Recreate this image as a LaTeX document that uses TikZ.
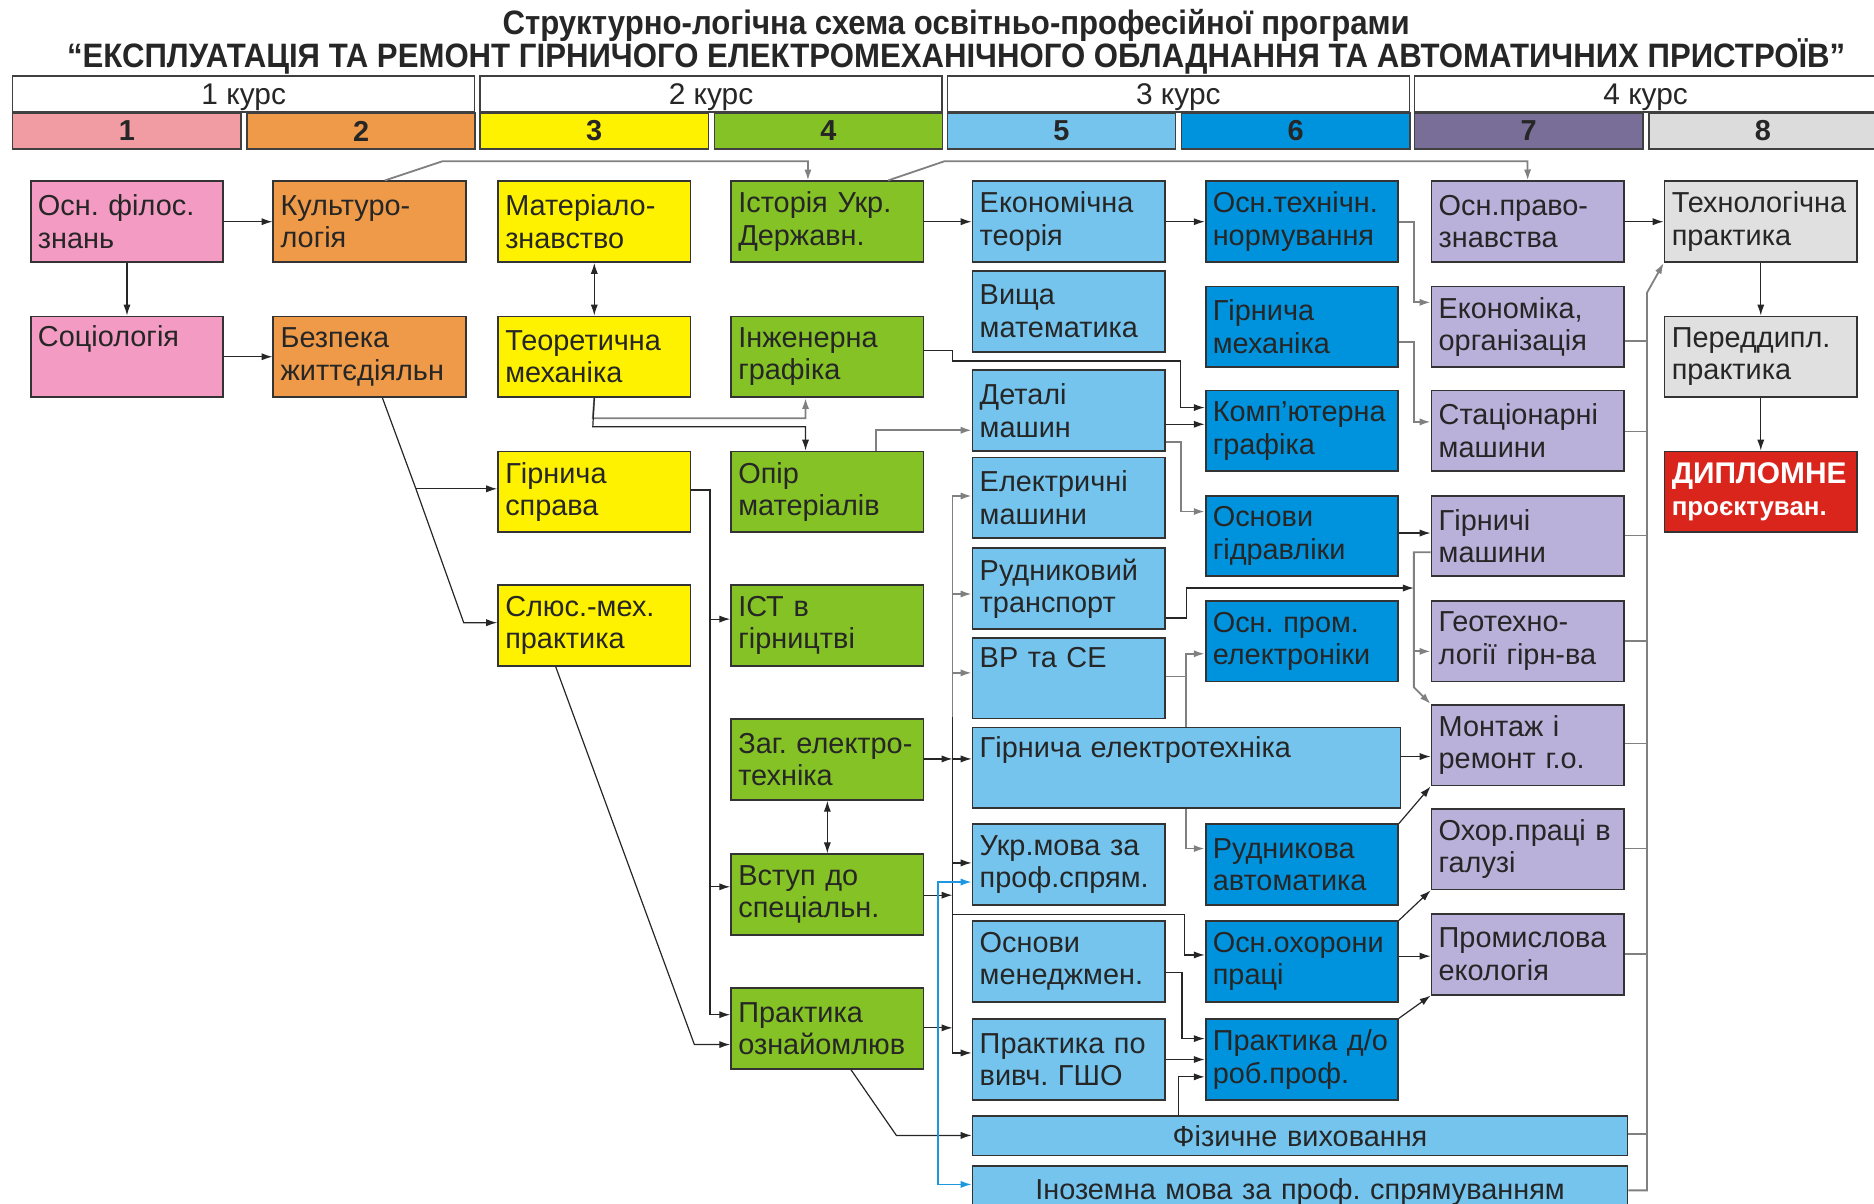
\documentclass[tikz,border=0pt]{standalone}
\usepackage{fontspec}
\setmainfont{Liberation Sans}
\newfontfamily\titlefont[FakeStretch=0.92]{Liberation Sans}
\usetikzlibrary{arrows.meta}
\frenchspacing

\definecolor{pinkH}{HTML}{F19CA2}
\definecolor{orangeH}{HTML}{EF9A48}
\definecolor{yellowH}{HTML}{FFF200}
\definecolor{greenH}{HTML}{84C225}
\definecolor{lblueH}{HTML}{74C4EE}
\definecolor{blueH}{HTML}{0093DD}
\definecolor{purpleH}{HTML}{786E98}
\definecolor{greyH}{HTML}{DCDCDC}
\definecolor{pinkB}{HTML}{F39BC2}
\definecolor{lavB}{HTML}{B9B1D9}
\definecolor{greyB}{HTML}{E0E0E0}
\definecolor{redB}{HTML}{DA251D}
\definecolor{lineB}{HTML}{1E96E0}

\begin{document}
\begin{tikzpicture}[x=0.6pt, y=-0.6pt, >={Latex[length=5.5pt,width=3.6pt]}]
  \tikzstyle{box}=[draw=black!80, line width=0.9pt, anchor=north west, minimum height=40.5pt,
                   text width=89.4pt, inner xsep=3.6pt, inner ysep=2pt, align=left,
                   text=black!85, font=\fontsize{14.5}{16.3}\selectfont]
  \tikzstyle{c1}=[box, fill=pinkB]
  \tikzstyle{c2}=[box, fill=orangeH]
  \tikzstyle{c3}=[box, fill=yellowH]
  \tikzstyle{c4}=[box, fill=greenH]
  \tikzstyle{c5}=[box, fill=lblueH]
  \tikzstyle{c6}=[box, fill=blueH]
  \tikzstyle{c7}=[box, fill=lavB]
  \tikzstyle{c8}=[box, fill=greyB]
  \tikzstyle{kurs}=[draw=black!75, line width=0.7pt, anchor=north west, minimum width=232pt,
                    minimum height=18pt, inner sep=0pt, text depth=0pt, text=black!85,
                    font=\fontsize{15}{16}\selectfont]
  \tikzstyle{sem}=[draw=black!75, line width=0.7pt, anchor=north west, minimum width=114.6pt,
                   minimum height=18pt, inner sep=0pt, text=black!85, font=\bfseries\fontsize{14.5}{16}\selectfont]
  \tikzstyle{ln}=[draw=black!85, line width=0.6pt]
  \tikzstyle{gln}=[draw=black!50, line width=0.9pt]
  \tikzstyle{bln}=[draw=lineB, line width=0.8pt, >={Latex[length=5.5pt,width=3.6pt]}]

  \useasboundingbox (0,0) rectangle (1568,1007);

  % title
  \node[font=\titlefont\bfseries\fontsize{17}{19}\selectfont, text=black!85] (title1) at (800,21)
    {Структурно-логічна схема освітньо-професійної програми};
  \node[font=\titlefont\bfseries\fontsize{17}{19}\selectfont, text=black!85] (title2) at (800,47)
    {“ЕКСПЛУАТАЦІЯ ТА РЕМОНТ ГІРНИЧОГО ЕЛЕКТРОМЕХАНІЧНОГО ОБЛАДНАННЯ ТА АВТОМАТИЧНИХ ПРИСТРОЇВ”};

  % courses and semesters
  \node[kurs] (k1) at (10,63) {1 курс};
  \node[kurs] (k2) at (401,63) {2 курс};
  \node[kurs] (k3) at (792,63) {3 курс};
  \node[kurs] (k4) at (1183,63) {4 курс};
  \node[sem, fill=pinkH] (s1) at (10,94) {1};
  \node[sem, fill=orangeH] (s2) at (206,94) {2};
  \node[sem, fill=yellowH] (s3) at (401,94) {3};
  \node[sem, fill=greenH] (s4) at (597,94) {4};
  \node[sem, fill=lblueH] (s5) at (792,94) {5};
  \node[sem, fill=blueH] (s6) at (988,94) {6};
  \node[sem, fill=purpleH] (s7) at (1183,94) {7};
  \node[sem, fill=greyH] (s8) at (1379,94) {8};

  % 1 semester
  \node[c1] (fil) at (25,151) {Осн. філос.\\знань};
  \node[c1] (soc) at (25,264) {Соціологія\\\strut};
  % 2 semester
  \node[c2] (kult) at (228,151) {Культуро-\\логія};
  \node[c2] (bzh) at (228,264) {Безпека\\життєдіяльн};
  % 3 semester
  \node[c3] (mat) at (416,151) {Матеріало-\\знавство};
  \node[c3] (teor) at (416,264) {Теоретична\\механіка};
  \node[c3] (girsp) at (416,377) {Гірнича\\справа};
  \node[c3] (slus) at (416,489) {Слюс.-мех.\\практика};
  % 4 semester
  \node[c4] (ist) at (611,151) {Історія Укр.\\Державн.};
  \node[c4] (ing) at (611,264) {Інженерна\\графіка};
  \node[c4] (opir) at (611,377) {Опір\\матеріалів};
  \node[c4] (ikt) at (611,489) {ІСТ в\\гірництві};
  \node[c4] (zagel) at (611,601) {\mbox{Заг. електро-}\\техніка};
  \node[c4] (vstup) at (611,714) {Вступ до\\спеціальн.};
  \node[c4] (praoz) at (611,826) {Практика\\ознайомлюв};
  % 5 semester
  \node[c5] (ekon) at (813,151) {Економічна\\теорія};
  \node[c5] (vyshm) at (813,226) {Вища\\математика};
  \node[c5] (detm) at (813,309) {Деталі\\машин};
  \node[c5] (elm) at (813,382) {Електричні\\машини};
  \node[c5] (rudtr) at (813,458) {Рудниковий\\транспорт};
  \node[c5] (vrse) at (813,533) {ВР та СЕ\\\strut};
  \node[c5, text width=207.6pt] (girel) at (813,608) {Гірнича електротехніка\\\strut};
  \node[c5] (ukrm) at (813,689) {Укр.мова за\\проф.спрям.};
  \node[c5] (menej) at (813,770) {Основи\\менеджмен.};
  \node[c5] (prgsho) at (813,852) {Практика по\\вивч. ГШО};
  \node[c5, text width=321.6pt, minimum height=19.8pt, align=center] (fiz) at (813,933) {Фізичне виховання};
  \node[c5, text width=321.6pt, minimum height=26.4pt, align=center] (inoz) at (813,975) {Іноземна мова за проф. спрямуванням};
  % 6 semester
  \node[c6] (tnorm) at (1008,151) {Осн.технічн.\\нормування};
  \node[c6] (girmeh) at (1008,239) {Гірнича\\механіка};
  \node[c6] (kompg) at (1008,326) {Комп’ютерна\\графіка};
  \node[c6] (gidr) at (1008,414) {Основи\\гідравліки};
  \node[c6] (prome) at (1008,502) {Осн. пром.\\електроніки};
  \node[c6] (rudavt) at (1008,689) {Рудникова\\автоматика};
  \node[c6] (ohpr) at (1008,770) {Осн.охорони\\праці};
  \node[c6] (prdo) at (1008,852) {Практика д/о\\роб.проф.};
  % 7 semester
  \node[c7] (pravo) at (1197,151) {Осн.право-\\знавства};
  \node[c7] (ekorg) at (1197,239) {Економіка,\\організація};
  \node[c7] (stac) at (1197,326) {Стаціонарні\\машини};
  \node[c7] (girmash) at (1197,414) {Гірничі\\машини};
  \node[c7] (geot) at (1197,502) {Геотехно-\\логії гірн-ва};
  \node[c7] (mont) at (1197,589) {Монтаж і\\ремонт г.о.};
  \node[c7] (ohgal) at (1197,676) {Охор.праці в\\галузі};
  \node[c7] (ekol) at (1197,764) {Промислова\\екологія};
  % 8 semester
  \node[c8] (tehpr) at (1392,151) {Технологічна\\практика};
  \node[c8] (pdpr) at (1392,264) {Переддипл.\\практика};
  \node[box, fill=redB, text=white, font=\bfseries\fontsize{15}{16.3}\selectfont] (dypl) at (1392,377)
    {ДИПЛОМНЕ\\{\fontsize{13}{15}\selectfont проєктуван.}};

  % joints
  \coordinate (bzb) at (348,409);
  \coordinate (gs1) at (594,518);
  \coordinate (gs2) at (594,742);
  \coordinate (zb) at (797,635);
  \coordinate (vb) at (797,749);
  \coordinate (pb) at (797,860);
  \coordinate (bt) at (797,415);
  \coordinate (bm) at (797,600);
  \coordinate (bb) at (797,881);
  \coordinate (gb) at (1183,545);
  \coordinate (rt) at (1183,492);

  % connectors
  \draw[ln,->] (fil) -- (kult);
  \draw[ln,->] (fil) -- (soc);
  \draw[ln,->] (soc) -- (bzh);
  \draw[gln,->] (kult.north -| 322,0) -- (370,135) -- (676,135) -- (ist.north -| 676,0);
  \draw[gln,->] (ist.north -| 743,0) -- (790,135) -- (1278,135) -- (pravo.north);
  \draw[ln,->] (ist) -- (ekon);
  \draw[ln,->] (ekon) -- (tnorm);
  \draw[ln,->] (pravo) -- (tehpr);
  \draw[ln,->] (tehpr) -- (pdpr);
  \draw[ln,->] (pdpr) -- (dypl);
  \draw[ln,<->] (mat) -- (teor);
  \draw[gln,->] (teor.south) -- (496,350) -- (674,350) -- (ing.south -| 674,0);
  \draw[ln,->] (teor.south) -- (496,357) -- (674,357) -- (opir.north -| 674,0);
  \draw[ln,->] (ing.east |- 0,293) -- (797,293) -- (797,302) -- (988,302) -- (988,341) -- (kompg.west |- 0,341);
  \draw[gln,->] (opir.north -| 733,0) -- (733,360) -- (detm.west |- 0,360);
  \draw[ln,->] (detm.east |- 0,355) -- (kompg.west |- 0,355);
  \draw[gln,->] (detm.east |- 0,370) -- (988,370) -- (988,428) -- (gidr.west |- 0,428);
  \draw[gln,->] (tnorm.east |- 0,186) -- (1183,186) -- (1183,253) -- (ekorg.west |- 0,253);
  \draw[gln,->] (girmeh.east |- 0,286) -- (1183,286) -- (1183,353) -- (stac.west |- 0,353);
  \draw[ln,->] (gidr.east |- 0,446) -- (girmash.west |- 0,446);
  \draw[gln,->] (girmash.west |- 0,462) -- (1183,462) -- (1183,575) -- (mont.north west);
  \draw[gln,->] (gb) -- (geot.west |- gb);
  \draw[ln,->] (rudtr.east |- 0,517) -- (993,517) -- (993,492) -- (rt);

  \draw[ln,->] (bzh.south -| 320,0) -- (bzb) -- (388,521) -- (slus.west |- 0,521);
  \draw[ln,->] (bzb) -- (girsp.west |- bzb);
  \draw[ln,->] (slus.south -| 465,0) -- (581,874) -- (praoz.west |- 0,874);
  \draw[ln,->] (girsp.east |- 0,410) -- (594,410) -- (594,849) -- (praoz.west |- 0,849);
  \draw[ln,->] (gs1) -- (ikt.west |- gs1);
  \draw[ln,->] (gs2) -- (vstup.west |- gs2);
  \draw[ln,<->] (zagel) -- (vstup);
  \draw[ln,->] (zagel.east |- zb) -- (zb);
  \draw[ln,->] (zb) -- (girel.west |- zb);
  \draw[ln,->] (vstup.east |- vb) -- (vb);
  \draw[ln,->] (praoz.east |- pb) -- (pb);
  \draw[ln,->] (praoz.south -| 712,0) -- (750,950) -- (fiz.west |- 0,950);

  % bus between 4 and 5
  \draw[gln,->] (bm) -- (bt) -- (elm.west |- bt);
  \draw[gln,->] (797,497) -- (rudtr.west |- 0,497);
  \draw[gln,->] (797,563) -- (vrse.west |- 0,563);
  \draw[ln,->] (bm) -- (bb) -- (prgsho.west |- bb);
  \draw[ln,->] (797,722) -- (ukrm.west |- 0,722);
  \draw[ln,->] (797,765) -- (991,765) -- (991,799) -- (ohpr.west |- 0,799);
  \draw[bln,<->] (ukrm.west |- 0,738) -- (785,738) -- (785,991) -- (inoz.west |- 0,991);

  \draw[ln,->] (menej.east |- 0,814) -- (989,814) -- (989,869) -- (prdo.west |- 0,869);
  \draw[ln,->] (prgsho) -- (prdo);
  \draw[ln,->] (fiz.north -| 986,0) -- (986,901) -- (prdo.west |- 0,901);
  \draw[ln,->] (prdo.north east) -- (ekol.south west);
  \draw[ln,->] (ohpr.east |- 0,800) -- (ekol.west |- 0,800);
  \draw[ln,->] (ohpr.north east) -- (ohgal.south west);
  \draw[ln,->] (rudavt.north east) -- (mont.south west);
  \draw[ln,->] (girel.east |- 0,633) -- (mont.west |- 0,633);
  \draw[gln,->] (girel.south -| 992,0) -- (992,710) -- (rudavt.west |- 0,710);
  \draw[gln] (vrse.east |- 0,566) -- (992,566);
  \draw[gln,->] (girel.north -| 992,0) -- (992,547) -- (prome.west |- 0,547);

  % bus to practice
  \draw[gln,->] (inoz.east |- 0,996) -- (1378,996) -- (1378,245) -- (tehpr.south west);
  \draw[gln] (ekorg.east |- 0,285) -- (1378,285);
  \draw[gln] (stac.east |- 0,361) -- (1378,361);
  \draw[gln] (girmash.east |- 0,448) -- (1378,448);
  \draw[gln] (geot.east |- 0,536) -- (1378,536);
  \draw[gln] (mont.east |- 0,622) -- (1378,622);
  \draw[gln] (ohgal.east |- 0,710) -- (1378,710);
  \draw[gln] (ekol.east |- 0,798) -- (1378,798);
  \draw[gln] (fiz.east |- 0,949) -- (1378,949);
\end{tikzpicture}
\end{document}
